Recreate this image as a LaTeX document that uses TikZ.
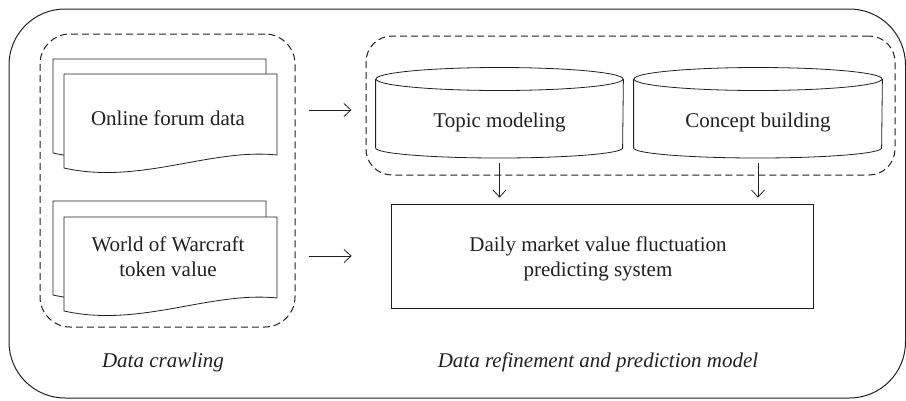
\documentclass[tikz,border=0pt]{standalone}
\usepackage{fontspec}
\setmainfont{Liberation Serif}
\usetikzlibrary{arrows.meta}
\definecolor{ink}{HTML}{231F20}
\begin{document}
\begin{tikzpicture}[x=1pt,y=-1pt,line width=0.8pt,color=ink,
  txt/.style={font=\fontsize{21}{25}\selectfont, align=center, text=ink, inner sep=0pt},
  ital/.style={txt, font=\fontsize{21}{25}\selectfont\itshape},
  dashbox/.style={draw=ink, line width=1pt, dash pattern=on 7pt off 4pt, rounded corners=#1, inner sep=0pt},
  area/.style={inner sep=0pt, draw=none},
  arr/.style={draw=ink, -{Straight Barb[length=7pt,width=13pt,line width=0.8pt]}},
  docfill/.style={draw=ink, fill=white}]
\useasboundingbox (0,0) rectangle (906,400);
% outer frame
\draw[line width=1pt, rounded corners=56] (9,9) rectangle (905.5,398);
% dashed groups
\node[dashbox=30, minimum width=255, minimum height=293] (crawl) at (167.5,180.5) {};
\node[dashbox=26, minimum width=529, minimum height=139] (refine) at (630.5,105.5) {};
% documents
\newcommand\docpath[3]{%
  \path[docfill] (#1,#3) -- (#2,#3) -- (#2,#3+81)
    .. controls (#2-67,#3+74) and (#1+76,#3+111) .. (#1,#3+94) -- cycle;}
\docpath{53}{266}{59}
\docpath{64}{277}{74}
\docpath{53}{266}{201}
\docpath{64}{277}{217}
\node[txt] (doc1) at (168,118) {Online forum data};
\node[txt] (doc2) at (168,257) {World of Warcraft\\token value};
% cylinders
\node[area, minimum width=247, minimum height=91] (topic) at (499.5,112.5) {};
\node[area, minimum width=248, minimum height=91] (concept) at (758,112.5) {};
\draw (topic.west |- 0,79) -- (topic.west |- 0,148)
  arc[start angle=180, end angle=0, x radius=123.5, y radius=10] -- (topic.east |- 0,79);
\draw (499.5,79) ellipse [x radius=123.5, y radius=11.5];
\draw (concept.west |- 0,79) -- (concept.west |- 0,148)
  arc[start angle=180, end angle=0, x radius=124, y radius=10] -- (concept.east |- 0,79);
\draw (758,79) ellipse [x radius=124, y radius=11.5];
\node[txt] (topictxt) at (499.5,122) {Topic modeling};
\node[txt] (concepttxt) at (758,122) {Concept building};
% system box
\node[draw=ink, minimum width=422, minimum height=104, inner sep=0pt] (sys) at (602,256) {};
\node[txt] (systxt) at (598,259) {Daily market value fluctuation\\predicting system};
% captions
\node[ital] (cap1) at (163,362) {Data crawling};
\node[ital] (cap2) at (598,362) {Data refinement and prediction model};
% connectors
\draw[arr, shorten <=13pt, shorten >=14pt] (crawl.east |- 0,110) -- (refine.west |- 0,110);
\draw[arr, shorten <=13pt, shorten >=39pt] (crawl.east |- 0,256) -- (sys.west |- 0,256);
\draw[arr, shorten <=5pt, shorten >=6pt] (topic.south) -- (topic.south |- sys.north);
\draw[arr, shorten <=5pt, shorten >=6pt] (concept.south) -- (concept.south |- sys.north);
\end{tikzpicture}
\end{document}
